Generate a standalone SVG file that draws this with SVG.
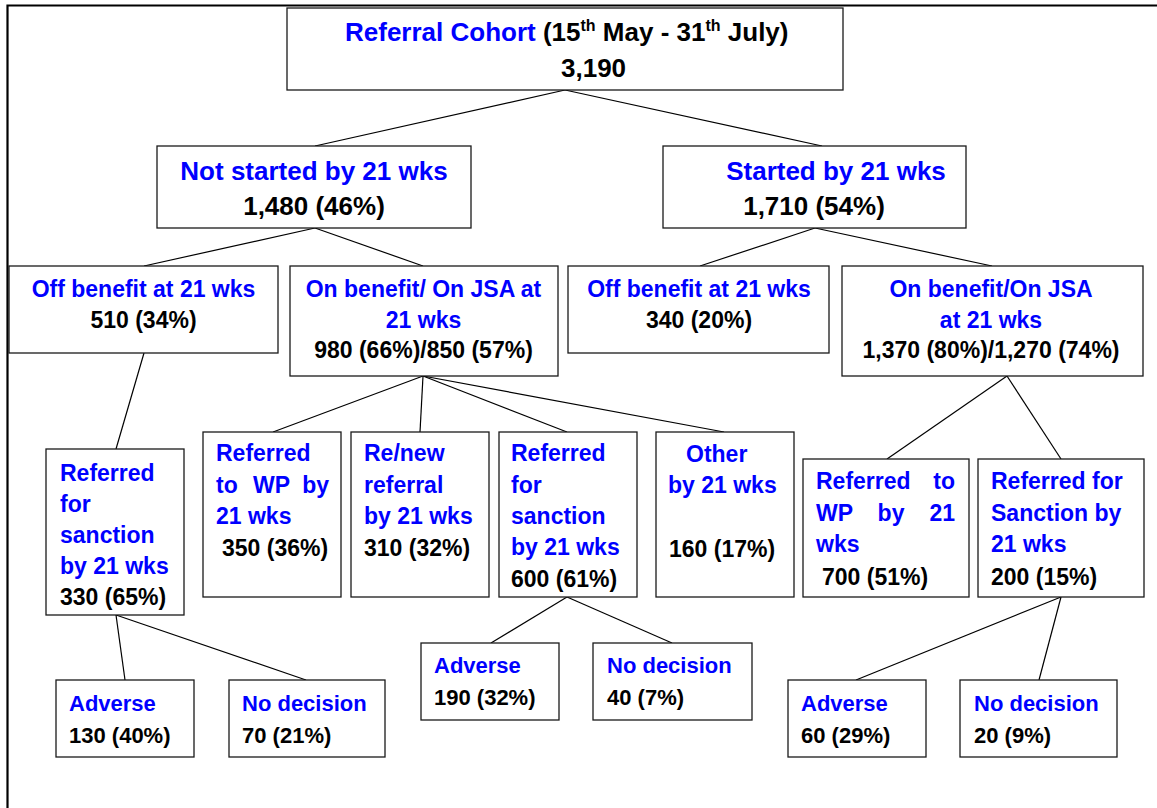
<svg xmlns="http://www.w3.org/2000/svg" width="1157" height="808" viewBox="0 0 1157 808">
<style>
.box{fill:#fff;stroke:#1a1a1a;stroke-width:1.3}
text{font-family:"Liberation Sans",Arial,sans-serif;font-weight:bold}
.b{fill:#0000ff}.k{fill:#000}
.f26{font-size:26px}.f23{font-size:23px}.f22{font-size:22px}
.c{text-anchor:middle}.e{text-anchor:end}
.ln{stroke:#000;stroke-width:1.2;fill:none}
.frame{stroke:#000;stroke-width:2.2;fill:none}
</style>
<rect width="1157" height="808" fill="#fff"/>
<path class="frame" d="M7.5,808 V5.5 H1157"/>
<g id="connectors">
<line class="ln" x1="565" y1="90" x2="315" y2="146"/>
<line class="ln" x1="565" y1="90" x2="822" y2="146"/>
<line class="ln" x1="315" y1="228" x2="144" y2="266"/>
<line class="ln" x1="315" y1="228" x2="423" y2="266"/>
<line class="ln" x1="815" y1="228" x2="700" y2="266"/>
<line class="ln" x1="815" y1="228" x2="992" y2="266"/>
<line class="ln" x1="144" y1="353" x2="116" y2="449"/>
<line class="ln" x1="423" y1="376" x2="273" y2="432"/>
<line class="ln" x1="423" y1="376" x2="420" y2="432"/>
<line class="ln" x1="423" y1="376" x2="567" y2="432"/>
<line class="ln" x1="423" y1="376" x2="724" y2="432"/>
<line class="ln" x1="1007" y1="376" x2="887" y2="459"/>
<line class="ln" x1="1007" y1="376" x2="1061" y2="459"/>
<line class="ln" x1="116" y1="615" x2="125" y2="680"/>
<line class="ln" x1="116" y1="615" x2="306" y2="680"/>
<line class="ln" x1="567" y1="597" x2="491" y2="643"/>
<line class="ln" x1="567" y1="597" x2="672" y2="643"/>
<line class="ln" x1="1061" y1="597" x2="856" y2="680"/>
<line class="ln" x1="1061" y1="597" x2="1039" y2="680"/>
</g>
<g id="n-cohort">
<rect class="box" x="287" y="8" width="556" height="82"/>
<text class="f26" x="345" y="41"><tspan class="b">Referral Cohort</tspan><tspan class="k"> (15</tspan><tspan class="k" font-size="16" dy="-10">th</tspan><tspan class="k" dy="10"> May - 31</tspan><tspan class="k" font-size="16" dy="-10">th</tspan><tspan class="k" dy="10"> July)</tspan></text>
<text class="f26 k" x="561" y="77">3,190</text>
</g>
<g id="n-notstarted">
<rect class="box" x="157" y="146" width="314" height="82"/>
<text class="f26 b c" x="314" y="180">Not started by 21 wks</text>
<text class="f26 k c" x="314" y="215">1,480 (46%)</text>
</g>
<g id="n-started">
<rect class="box" x="663" y="146" width="303" height="82"/>
<text class="f26 b c" x="836" y="180">Started by 21 wks</text>
<text class="f26 k c" x="814" y="215">1,710 (54%)</text>
</g>
<g id="n-off-ns">
<rect class="box" x="9" y="266" width="269" height="87"/>
<text class="f23 b c" x="143.5" y="297">Off benefit at 21 wks</text>
<text class="f23 k c" x="143.5" y="328">510 (34%)</text>
</g>
<g id="n-on-ns">
<rect class="box" x="290" y="266" width="268" height="110"/>
<text class="f23 b c" x="423.5" y="297">On benefit/ On JSA at</text>
<text class="f23 b c" x="423.5" y="328">21 wks</text>
<text class="f23 k c" x="423.5" y="358">980 (66%)/850 (57%)</text>
</g>
<g id="n-off-s">
<rect class="box" x="568" y="266" width="261" height="87"/>
<text class="f23 b c" x="699" y="297">Off benefit at 21 wks</text>
<text class="f23 k c" x="699" y="328">340 (20%)</text>
</g>
<g id="n-on-s">
<rect class="box" x="842" y="266" width="301" height="110"/>
<text class="f23 b c" x="991" y="297">On benefit/On JSA</text>
<text class="f23 b c" x="991" y="328">at 21 wks</text>
<text class="f23 k c" x="991" y="358">1,370 (80%)/1,270 (74%)</text>
</g>
<g id="n-sanction-off">
<rect class="box" x="46" y="449" width="138" height="166"/>
<text class="f23 b" x="60" y="481">Referred</text>
<text class="f23 b" x="60" y="512">for</text>
<text class="f23 b" x="60" y="543">sanction</text>
<text class="f23 b" x="60" y="574">by 21 wks</text>
<text class="f23 k" x="60" y="605">330 (65%)</text>
</g>
<g id="n-wp-ns">
<rect class="box" x="203" y="432" width="138" height="165"/>
<text class="f23 b" x="216" y="461">Referred</text>
<text class="f23 b" x="216" y="493">to</text>
<text class="f23 b" x="253" y="493">WP</text>
<text class="f23 b e" x="329" y="493">by</text>
<text class="f23 b" x="216" y="524">21 wks</text>
<text class="f23 k" x="222" y="556">350 (36%)</text>
</g>
<g id="n-renew">
<rect class="box" x="351" y="432" width="138" height="165"/>
<text class="f23 b" x="364" y="461">Re/new</text>
<text class="f23 b" x="364" y="493">referral</text>
<text class="f23 b" x="364" y="524">by 21 wks</text>
<text class="f23 k" x="364" y="556">310 (32%)</text>
</g>
<g id="n-sanction-on">
<rect class="box" x="499" y="432" width="138" height="165"/>
<text class="f23 b" x="511" y="461">Referred</text>
<text class="f23 b" x="511" y="493">for</text>
<text class="f23 b" x="511" y="524">sanction</text>
<text class="f23 b" x="511" y="555">by 21 wks</text>
<text class="f23 k" x="511" y="587">600 (61%)</text>
</g>
<g id="n-other">
<rect class="box" x="656" y="432" width="138" height="165"/>
<text class="f23 b" x="686" y="462">Other</text>
<text class="f23 b" x="668" y="493">by 21 wks</text>
<text class="f23 k" x="669" y="557">160 (17%)</text>
</g>
<g id="n-wp-s">
<rect class="box" x="803" y="459" width="166" height="138"/>
<text class="f23 b" x="816" y="489">Referred</text>
<text class="f23 b e" x="955" y="489">to</text>
<text class="f23 b" x="816" y="521">WP</text>
<text class="f23 b c" x="891" y="521">by</text>
<text class="f23 b e" x="955" y="521">21</text>
<text class="f23 b" x="816" y="552">wks</text>
<text class="f23 k" x="822" y="585">700 (51%)</text>
</g>
<g id="n-sanction-s">
<rect class="box" x="978" y="459" width="166" height="138"/>
<text class="f23 b" x="991" y="489">Referred for</text>
<text class="f23 b" x="991" y="521">Sanction by</text>
<text class="f23 b" x="991" y="552">21 wks</text>
<text class="f23 k" x="991" y="585">200 (15%)</text>
</g>
<g id="n-adverse-1">
<rect class="box" x="56" y="680" width="138" height="77"/>
<text class="f22 b" x="69" y="711">Adverse</text>
<text class="f22 k" x="69" y="743">130 (40%)</text>
</g>
<g id="n-nodec-1">
<rect class="box" x="229" y="680" width="156" height="77"/>
<text class="f22 b" x="242" y="711">No decision</text>
<text class="f22 k" x="242" y="743">70 (21%)</text>
</g>
<g id="n-adverse-2">
<rect class="box" x="421" y="643" width="138" height="77"/>
<text class="f22 b" x="434" y="673">Adverse</text>
<text class="f22 k" x="434" y="705">190 (32%)</text>
</g>
<g id="n-nodec-2">
<rect class="box" x="593" y="643" width="159" height="77"/>
<text class="f22 b" x="607" y="673">No decision</text>
<text class="f22 k" x="607" y="705">40 (7%)</text>
</g>
<g id="n-adverse-3">
<rect class="box" x="788" y="680" width="138" height="77"/>
<text class="f22 b" x="801" y="711">Adverse</text>
<text class="f22 k" x="801" y="743">60 (29%)</text>
</g>
<g id="n-nodec-3">
<rect class="box" x="960" y="680" width="157" height="77"/>
<text class="f22 b" x="974" y="711">No decision</text>
<text class="f22 k" x="974" y="743">20 (9%)</text>
</g>
</svg>
